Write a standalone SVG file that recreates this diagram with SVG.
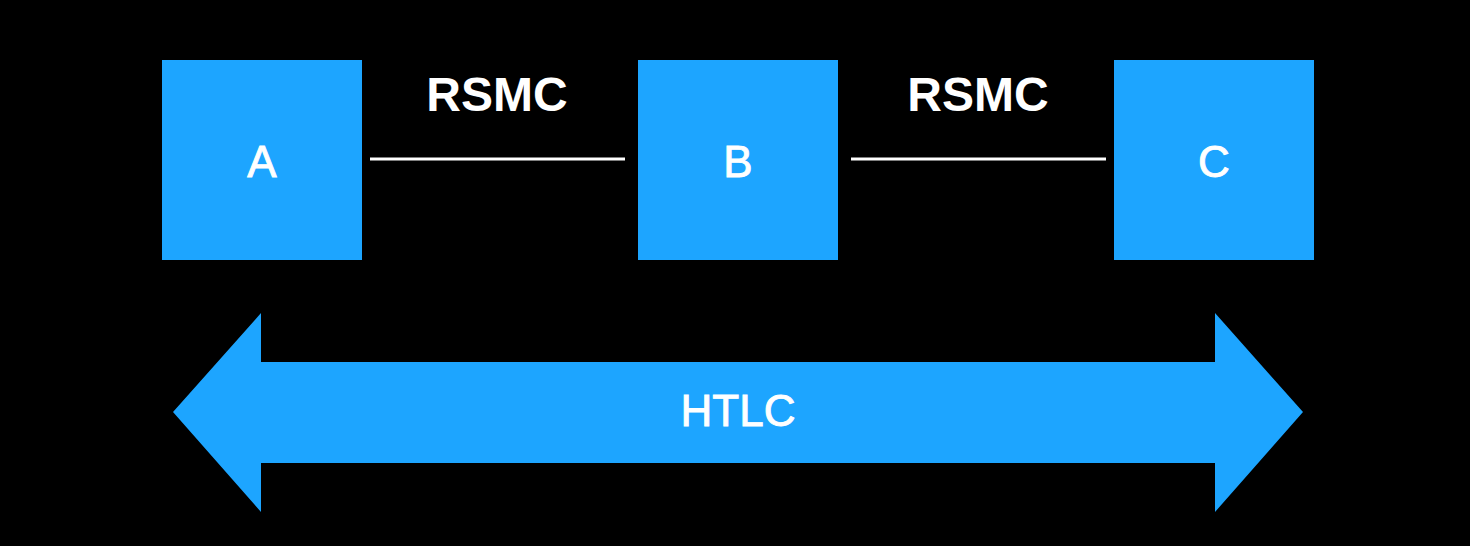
<svg xmlns="http://www.w3.org/2000/svg" width="1470" height="546" viewBox="0 0 1470 546">
<style>
.box{fill:#1DA5FF}
.lbl{fill:#fff;stroke:#fff;stroke-width:0.9px;font-family:"Liberation Sans",Arial,sans-serif;font-size:44px;text-anchor:middle}
.bold{font-weight:bold;font-size:48px;stroke-width:0}
.conn{stroke:#fff;stroke-width:3}
</style>
<rect width="1470" height="546" fill="#000"/>
<g id="connectors">
<line class="conn" x1="370" y1="159" x2="625" y2="159"/>
<line class="conn" x1="851" y1="159" x2="1106" y2="159"/>
<text class="lbl bold" x="497" y="111">RSMC</text>
<text class="lbl bold" x="978" y="111">RSMC</text>
</g>
<g id="nodeA"><rect class="box" x="162" y="60" width="200" height="200"/><text class="lbl" x="262" y="177">A</text></g>
<g id="nodeB"><rect class="box" x="638" y="60" width="200" height="200"/><text class="lbl" x="738" y="177">B</text></g>
<g id="nodeC"><rect class="box" x="1114" y="60" width="200" height="200"/><text class="lbl" x="1214" y="177">C</text></g>
<g id="htlc">
<polygon class="box" points="173,412 261,313 261,362 1215,362 1215,313 1303,412 1215,512 1215,463 261,463 261,512"/>
<text class="lbl" x="738" y="426">HTLC</text>
</g>
</svg>
